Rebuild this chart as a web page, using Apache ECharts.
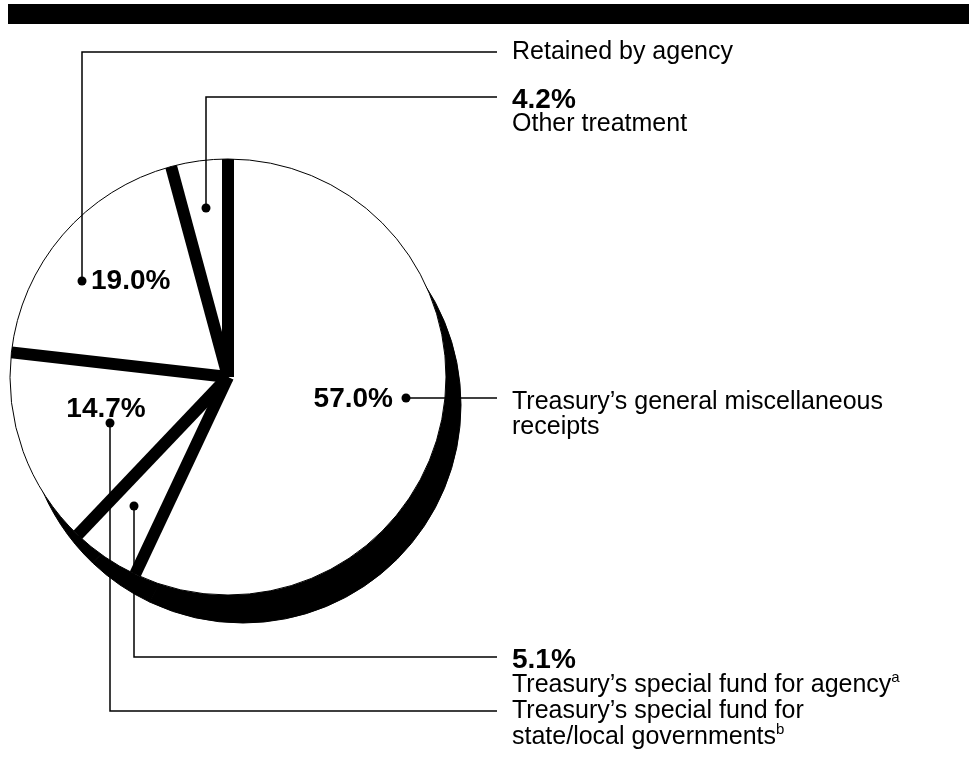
<!DOCTYPE html>
<html>
<head>
<meta charset="utf-8">
<script src="https://cdn.jsdelivr.net/npm/echarts@6/dist/echarts.min.js"></script>
<style>html,body{margin:0;padding:0;background:#fff}#c{width:969px;height:778px}</style>
</head>
<body>
<div id="c"></div>
<script>
// ---- data ----
const categories = [
  'Treasury’s general miscellaneous receipts',
  'Treasury’s special fund for agency',
  'Treasury’s special fund for state/local governments',
  'Retained by agency',
  'Other treatment'
];
const values = [57.0, 5.1, 14.7, 19.0, 4.2];
const pctLabels = values.map(v => v.toFixed(1) + '%');

// ---- derived ----
const boundaries = [];
let acc = 0;
values.forEach(v => { boundaries.push(acc); acc += v; });

const FONT = "'Liberation Sans', Arial, Helvetica, sans-serif";
const CX = 228, CY = 377, R = 218;
const pieData = categories.map((c, i) => ({ name: c, value: values[i] }));

const chart = echarts.init(document.getElementById('c'));

const bandSeries = boundaries.map(b => ({
  type: 'line',
  coordinateSystem: 'polar',
  data: [[0, b], [1, b]],
  symbol: 'none',
  silent: true,
  clip: false,
  z: 5,
  lineStyle: { color: '#000', width: 12, cap: 'butt' }
}));

const REG = 25, BOLD = 28;
function txt(x, y, text, bold, size, align) {
  return {
    type: 'text', x: x, y: y, z: 20, silent: true,
    style: {
      text: text, fill: '#000',
      font: (bold ? 'bold ' : '') + size + 'px ' + FONT,
      textAlign: align || 'left', textVerticalAlign: 'middle'
    }
  };
}
function supTxt(x, y, main, sup) {
  return {
    type: 'text', x: x, y: y, z: 20, silent: true,
    style: {
      text: '{m|' + main + '}{s|' + sup + '}',
      textVerticalAlign: 'middle',
      rich: {
        m: { fontSize: REG, fontFamily: FONT, fill: '#000', lineHeight: 28, verticalAlign: 'bottom' },
        s: { fontSize: 15, fontFamily: FONT, fill: '#000', lineHeight: 28, verticalAlign: 'top' }
      }
    }
  };
}
function leader(points) {
  return {
    type: 'polyline', z: 20, silent: true,
    shape: { points: points },
    style: { stroke: '#000', lineWidth: 1.5, fill: null }
  };
}
function dot(x, y) {
  return { type: 'circle', z: 20, silent: true, shape: { cx: x, cy: y, r: 4.5 }, style: { fill: '#000' } };
}

const LX = 497, TX = 512;

chart.setOption({
  animation: false,
  backgroundColor: '#fff',
  polar: { center: [CX, CY], radius: R },
  radiusAxis: { type: 'value', min: 0, max: 1, axisLine: { show: false }, axisTick: { show: false }, axisLabel: { show: false }, splitLine: { show: false } },
  angleAxis: { type: 'value', min: 0, max: 100, startAngle: 90, clockwise: true, axisLine: { show: false }, axisTick: { show: false }, axisLabel: { show: false }, splitLine: { show: false } },
  series: [
    {
      type: 'pie', name: 'shadow', silent: true, z: 1,
      center: [CX + 15, CY + 28], radius: R,
      startAngle: 90, clockwise: true,
      label: { show: false }, labelLine: { show: false },
      emphasis: { disabled: true },
      itemStyle: { color: '#000', borderColor: '#000', borderWidth: 1 },
      data: pieData
    },
    {
      type: 'pie', name: 'faces', silent: true, z: 2,
      center: [CX, CY], radius: R,
      startAngle: 90, clockwise: true,
      label: { show: false }, labelLine: { show: false },
      emphasis: { disabled: true },
      itemStyle: { color: '#fff', borderColor: '#000', borderWidth: 1 },
      data: pieData
    }
  ].concat(bandSeries),
  graphic: [
    { type: 'rect', z: 20, silent: true, shape: { x: 8, y: 4, width: 961, height: 20 }, style: { fill: '#000' } },
    // Retained by agency (19.0%)
    leader([[82, 281], [82, 52], [LX, 52]]), dot(82, 281),
    txt(91, 281, pctLabels[3], true, BOLD),
    txt(TX, 52, categories[3], false, REG),
    // Other treatment (4.2%)
    leader([[206, 208], [206, 97], [LX, 97]]), dot(206, 208),
    txt(TX, 100, pctLabels[4], true, BOLD),
    txt(TX, 124, categories[4], false, REG),
    // 57.0%
    leader([[406, 398], [LX, 398]]), dot(406, 398),
    txt(393, 399, pctLabels[0], true, BOLD, 'right'),
    txt(TX, 402, 'Treasury’s general miscellaneous', false, REG),
    txt(TX, 427, 'receipts', false, REG),
    // 14.7%
    leader([[110, 423], [110, 711], [LX, 711]]), dot(110, 423),
    txt(106, 409, pctLabels[2], true, BOLD, 'center'),
    txt(TX, 711, 'Treasury’s special fund for', false, REG),
    supTxt(TX, 736, 'state/local governments', 'b'),
    // 5.1%
    leader([[134, 506], [134, 657], [LX, 657]]), dot(134, 506),
    txt(TX, 660, pctLabels[1], true, BOLD),
    supTxt(TX, 684, 'Treasury’s special fund for agency', 'a')
  ]
});
</script>
</body>
</html>
